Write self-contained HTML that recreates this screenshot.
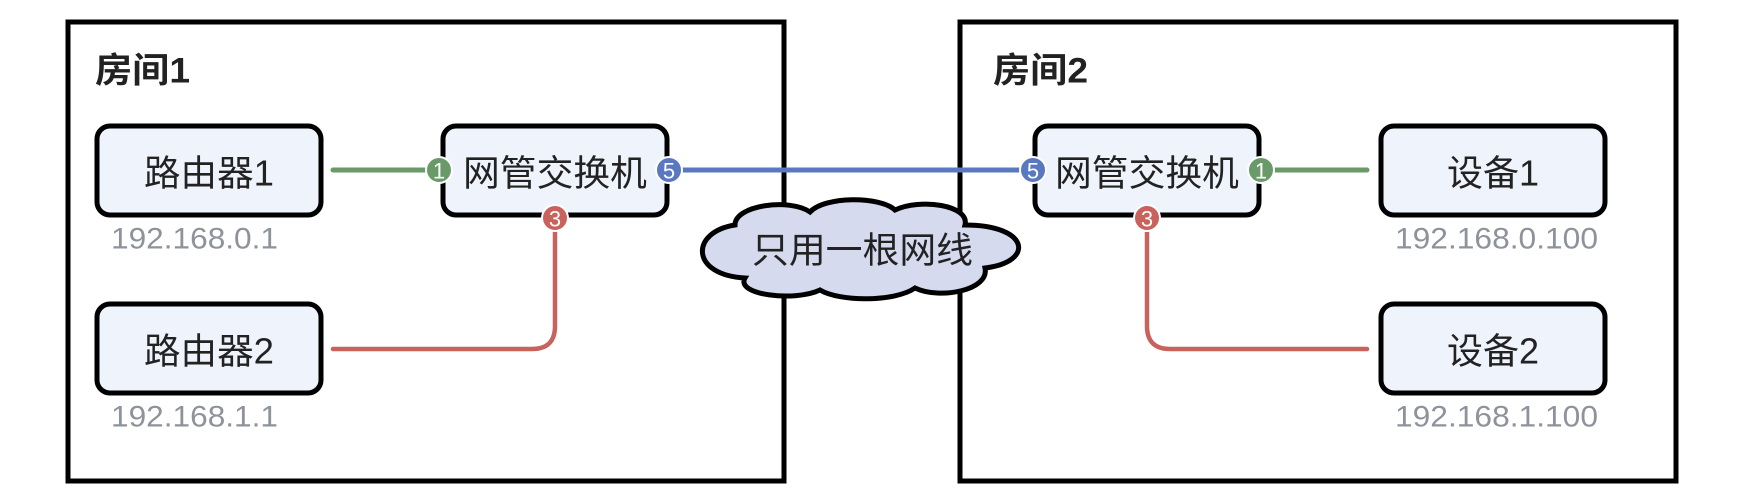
<!DOCTYPE html>
<html><head><meta charset="utf-8"><style>
html,body{margin:0;padding:0;background:#fff;}
svg{display:block;}
text{font-family:"Liberation Sans","Noto Sans CJK SC",sans-serif;}
</style></head><body>
<svg width="1748" height="504" viewBox="0 0 1748 504" xmlns="http://www.w3.org/2000/svg">
<rect x="68" y="22" width="716" height="459" fill="#fff" stroke="#000" stroke-width="5"/>
<rect x="960" y="22" width="716" height="459" fill="#fff" stroke="#000" stroke-width="5"/>
<text x="95" y="71" font-size="35" font-weight="bold" fill="#222" dominant-baseline="central" textLength="95" lengthAdjust="spacingAndGlyphs">房间1</text>
<text x="993" y="71" font-size="35" font-weight="bold" fill="#222" dominant-baseline="central" textLength="95" lengthAdjust="spacingAndGlyphs">房间2</text>

<line x1="333" y1="170" x2="432" y2="170" stroke="#6a9a6a" stroke-width="5" stroke-linecap="round"/>
<path d="M555,232 V326 Q555,349 532,349 H333" fill="none" stroke="#c8625c" stroke-width="4.5" stroke-linecap="round"/>
<line x1="672" y1="170" x2="1030" y2="170" stroke="#5a78c0" stroke-width="5"/>
<line x1="1264" y1="170" x2="1367" y2="170" stroke="#6a9a6a" stroke-width="5" stroke-linecap="round"/>
<path d="M1147,232 V326 Q1147,349 1170,349 H1367" fill="none" stroke="#c8625c" stroke-width="4.5" stroke-linecap="round"/>

<g fill="#eff3fb" stroke="#000" stroke-width="5">
<rect x="97" y="126" width="224" height="89" rx="13"/>
<rect x="97" y="304" width="224" height="89" rx="13"/>
<rect x="443" y="126" width="224" height="89" rx="13"/>
<rect x="1035" y="126" width="224" height="89" rx="13"/>
<rect x="1381" y="126" width="224" height="89" rx="13"/>
<rect x="1381" y="304" width="224" height="89" rx="13"/>
</g>
<g font-size="36" fill="#222" dominant-baseline="central">
<text x="144" y="173" textLength="130" lengthAdjust="spacingAndGlyphs">路由器1</text>
<text x="144" y="351" textLength="130" lengthAdjust="spacingAndGlyphs">路由器2</text>
<text x="463" y="173" textLength="184" lengthAdjust="spacingAndGlyphs">网管交换机</text>
<text x="1055" y="173" textLength="184" lengthAdjust="spacingAndGlyphs">网管交换机</text>
<text x="1447" y="173" textLength="92" lengthAdjust="spacingAndGlyphs">设备1</text>
<text x="1447" y="351" textLength="92" lengthAdjust="spacingAndGlyphs">设备2</text>
</g>
<g font-size="30" fill="#8e939b" dominant-baseline="central">
<text x="111" y="239" textLength="167" lengthAdjust="spacingAndGlyphs">192.168.0.1</text>
<text x="111" y="417" textLength="167" lengthAdjust="spacingAndGlyphs">192.168.1.1</text>
<text x="1395" y="239" textLength="203" lengthAdjust="spacingAndGlyphs">192.168.0.100</text>
<text x="1395" y="417" textLength="203" lengthAdjust="spacingAndGlyphs">192.168.1.100</text>
</g>

<g stroke="#fff" stroke-width="2">
<circle cx="439" cy="170" r="13" fill="#6a9a6a"/>
<circle cx="669" cy="170" r="13" fill="#5a78c0"/>
<circle cx="555" cy="218" r="13" fill="#c8625c"/>
<circle cx="1033" cy="170" r="13" fill="#5a78c0"/>
<circle cx="1261" cy="170" r="13" fill="#6a9a6a"/>
<circle cx="1147" cy="218" r="13" fill="#c8625c"/>
</g>
<g font-size="22" fill="#fff" text-anchor="middle" dominant-baseline="central">
<text x="439" y="171">1</text>
<text x="669" y="171">5</text>
<text x="555" y="219">3</text>
<text x="1033" y="171">5</text>
<text x="1261" y="171">1</text>
<text x="1147" y="219">3</text>
</g>

<path d="M735,225 C735,205 790,198 810,212 C825,196 880,196 895,210 C920,198 970,205 965,225 C1030,225 1035,262 985,268 C990,290 940,300 915,288 C895,302 840,302 820,290 C795,302 735,295 745,278 C690,275 690,232 735,225 Z" fill="#d5daee" stroke="#000" stroke-width="5"/>
<text x="752" y="250" font-size="36" fill="#222" dominant-baseline="central" textLength="221" lengthAdjust="spacingAndGlyphs">只用一根网线</text>
</svg>
</body></html>
